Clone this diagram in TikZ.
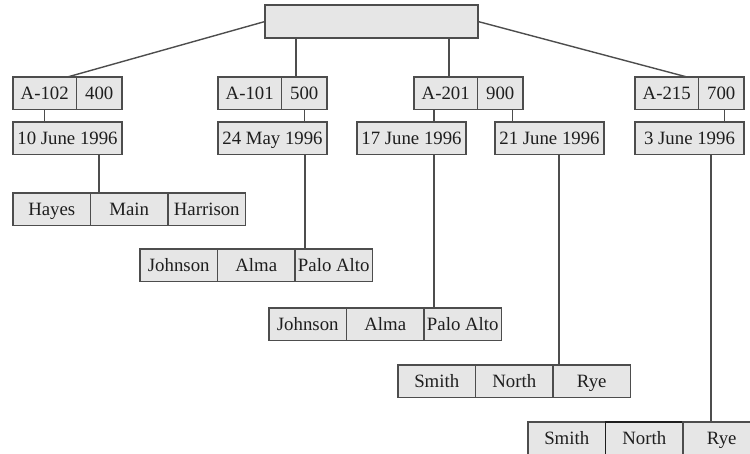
\documentclass[tikz,border=0pt]{standalone}
\usepackage{fontspec}
\setmainfont{Liberation Serif}
\usetikzlibrary{positioning}
\definecolor{boxfill}{HTML}{E6E6E6}
\definecolor{edge}{HTML}{4D4D4D}
\definecolor{ink}{HTML}{1E1E1E}

\begin{document}
\begin{tikzpicture}[
  x=0.5pt,y=-0.5pt,
  cell/.style={draw=edge,fill=boxfill,line width=0.7pt,minimum height=16.25pt,inner sep=0pt,outer sep=0pt,
    text height=7.3pt,text depth=1.5pt,text=ink,font=\fontsize{9.4}{10}\selectfont},
  keyc/.style={cell,minimum width=31.75pt},
  balc/.style={cell,minimum width=22.75pt},
  datec/.style={cell,minimum width=54.5pt},
  recc/.style={cell,minimum width=38.75pt},
  link/.style={draw=edge,line width=0.7pt}
]
\useasboundingbox (0,0) rectangle (750,454);
\clip (0,0) rectangle (750,454);

\node[cell,anchor=north west,minimum width=106.5pt,minimum height=16.5pt] (root) at (265,5) {};

\node[keyc,anchor=north west] (k102) at (13,77) {A-102};
\node[balc,right=0pt of k102] (b400) {400};
\node[keyc,anchor=north west] (k101) at (218,77) {A-101};
\node[balc,right=0pt of k101] (b500) {500};
\node[keyc,anchor=north west] (k201) at (414,77) {A-201};
\node[balc,right=0pt of k201] (b900) {900};
\node[keyc,anchor=north west] (k215) at (635,77) {A-215};
\node[balc,right=0pt of k215] (b700) {700};

\node[datec,anchor=north west] (d102) at (13,122) {10 June 1996};
\node[datec,anchor=north west] (d101) at (218,122) {24 May 1996};
\node[datec,anchor=north west] (d201a) at (357,122) {17 June 1996};
\node[datec,anchor=north west] (d201b) at (495,122) {21 June 1996};
\node[datec,anchor=north west] (d215) at (635,122) {3 June 1996};

\node[recc,anchor=north west] (hayes) at (13,193) {Hayes};
\node[recc,right=0pt of hayes] (hstreet) {Main};
\node[recc,right=0pt of hstreet] (hcity) {Harrison};
\node[recc,anchor=north west] (johnA) at (140,249) {Johnson};
\node[recc,right=0pt of johnA] (jstreetA) {Alma};
\node[recc,right=0pt of jstreetA] (jcityA) {Palo Alto};
\node[recc,anchor=north west] (johnB) at (269,308) {Johnson};
\node[recc,right=0pt of johnB] (jstreetB) {Alma};
\node[recc,right=0pt of jstreetB] (jcityB) {Palo Alto};
\node[recc,anchor=north west] (smithA) at (398,365) {Smith};
\node[recc,right=0pt of smithA] (sstreetA) {North};
\node[recc,right=0pt of sstreetA] (scityA) {Rye};
\node[recc,anchor=north west] (smithB) at (528,422) {Smith};
\node[recc,right=0pt of smithB,draw=ink] (sstreetB) {North};
\node[recc,right=0pt of sstreetB] (scityB) {Rye};

\draw[link] (root.west) -- ([xshift=-4.5pt]k102.north east);
\draw[link] ([xshift=15.5pt]root.south west) coordinate (t1) -- (t1 |- b500.north);
\draw[link] ([xshift=92pt]root.south west) coordinate (t2) -- (t2 |- k201.north);
\draw[link] (root.east) -- ([xshift=-5.75pt]k215.north east);

\draw[link] (k102.south) -- (k102.south |- d102.north);
\draw[link] (b500.south) -- (b500.south |- d101.north);
\draw[link] ([xshift=-5.9pt]k201.south) coordinate (t3) -- (t3 |- d201a.north);
\draw[link] ([xshift=6pt]b900.south) coordinate (t4) -- (t4 |- d201b.north);
\draw[link] ([xshift=1.5pt]b700.south) coordinate (t5) -- (t5 |- d215.north);

\draw[link] ([xshift=15.75pt]d102.south) coordinate (t6) -- (t6 |- hstreet.north);
\draw[link] ([xshift=16.25pt]d101.south) coordinate (t7) -- (t7 |- jcityA.north);
\draw[link] ([xshift=11.25pt]d201a.south) coordinate (t8) -- (t8 |- jcityB.north);
\draw[link] ([xshift=4.75pt]d201b.south) coordinate (t9) -- (t9 |- scityA.north);
\draw[link] ([xshift=10.75pt]d215.south) coordinate (t10) -- (t10 |- scityB.north);
\end{tikzpicture}
\end{document}
